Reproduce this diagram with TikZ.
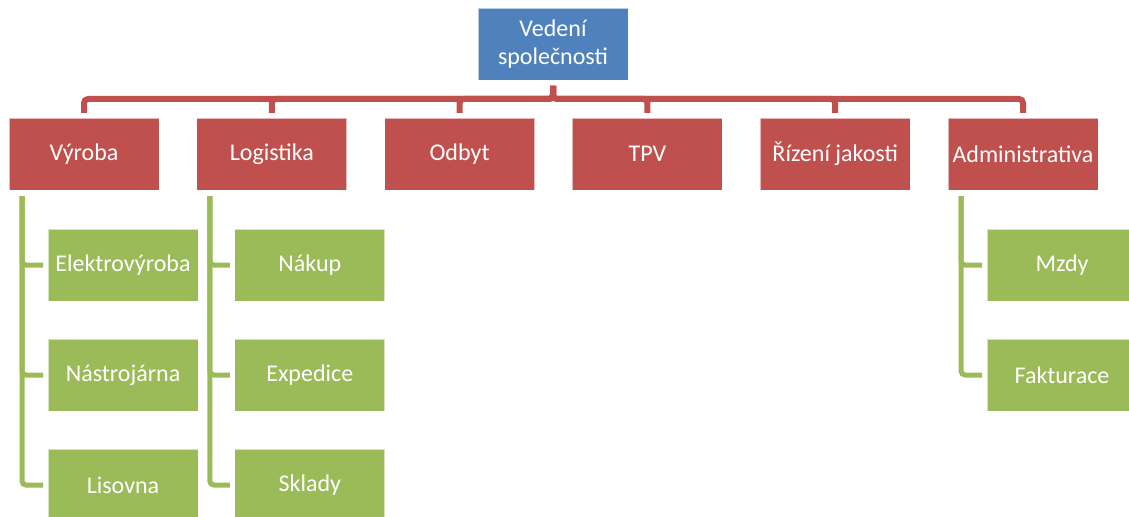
\documentclass[tikz,border=0pt]{standalone}
\usepackage{fontspec}
\setmainfont{Carlito}
\usetikzlibrary{positioning}

\definecolor{vedblue}{HTML}{4F81BD}
\definecolor{odred}{HTML}{C0504D}
\definecolor{pdgreen}{HTML}{9BBB59}

\begin{document}
\begin{tikzpicture}[
    x=0.75pt, y=0.75pt,
    node distance=28.5pt and 28.35pt,
    box/.style={rectangle, draw=white, draw opacity=0.6, line width=0.5pt, outer sep=0pt, text=white, minimum width=112.5pt, minimum height=54pt, inner sep=0pt, align=center, font=\fontsize{18}{21}\selectfont},
    leader/.style={box, fill=vedblue},
    dept/.style={box, fill=odred},
    unit/.style={box, fill=pdgreen},
    redline/.style={draw=odred, line width=4.5pt, rounded corners=3pt, shorten <=4.5pt, shorten >=3.75pt},
    greenline/.style={draw=pdgreen, line width=3.75pt, rounded corners=3pt, shorten <=4.5pt, shorten >=3.75pt},
]
\useasboundingbox (0,0) rectangle (1129,-517);

% Top
\node[leader] (vedeni) at (553,-44) {Vedení\\společnosti};

% Departments
\node[dept] (vyroba) at (84,-154) {Výroba};
\node[dept, right=of vyroba] (logistika) {Logistika};
\node[dept, right=of logistika] (odbyt) {Odbyt};
\node[dept, right=of odbyt] (tpv) {TPV};
\node[dept, right=of tpv] (jakost) {Řízení jakosti};
\node[dept, right=of jakost] (admin) {Administrativa};

% Units of Vyroba
\node[unit, anchor=north west] (elektro) at ([shift={(39,-39)}]vyroba.south west) {Elektrovýroba};
\node[unit, below=of elektro] (nastroj) {Nástrojárna};
\node[unit, below=of nastroj] (lisovna) {Lisovna};

% Units of Logistika
\node[unit, anchor=north west] (nakup) at ([shift={(38,-39)}]logistika.south west) {Nákup};
\node[unit, below=of nakup] (expedice) {Expedice};
\node[unit, below=of expedice] (sklady) {Sklady};

% Units of Administrativa
\node[unit, anchor=north west] (mzdy) at ([shift={(39,-39)}]admin.south west) {Mzdy};
\node[unit, below=of mzdy] (fakturace) {Fakturace};

% Connectors
\foreach \d in {vyroba, logistika, odbyt, tpv, jakost, admin}
    \draw[redline] (vedeni.south) -- ++(0,-19) -| (\d.north);

\foreach \u in {elektro, nastroj, lisovna}
    \draw[greenline] ([xshift=9.75pt]vyroba.south west) |- (\u.west);
\foreach \u in {nakup, expedice, sklady}
    \draw[greenline] ([xshift=9.75pt]logistika.south west) |- (\u.west);
\foreach \u in {mzdy, fakturace}
    \draw[greenline] ([xshift=9.75pt]admin.south west) |- (\u.west);

\end{tikzpicture}
\end{document}
